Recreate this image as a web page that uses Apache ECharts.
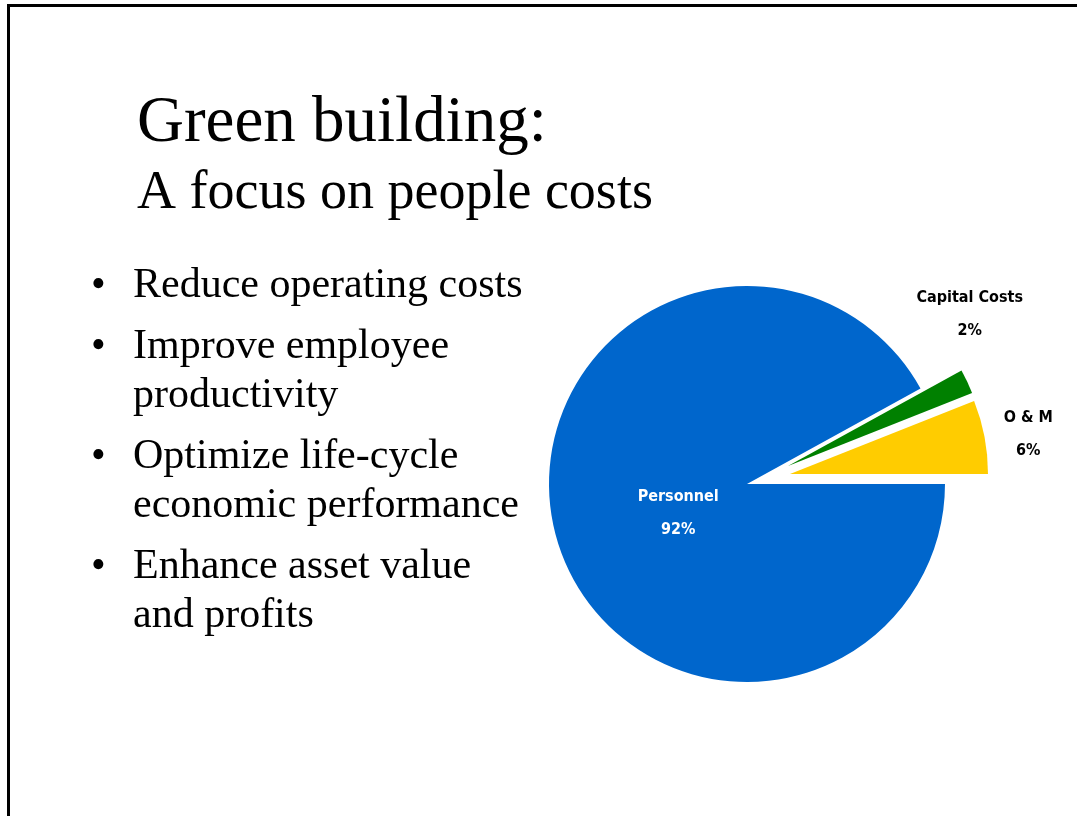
<!DOCTYPE html>
<html>
<head>
<meta charset="utf-8">
<title>Green building: A focus on people costs</title>
<script src="https://cdn.jsdelivr.net/npm/echarts@6/dist/echarts.min.js"></script>
<style>
  html, body { margin: 0; padding: 0; background: #ffffff; }
  #chart { width: 1077px; height: 816px; }
</style>
</head>
<body>
<div id="chart"></div>
<script>
// Cost breakdown over a building's life (percent of total)
const categories = ['O & M', 'Capital Costs', 'Personnel'];
const shares = [6, 2, 92];

// Slide heading and bullet points
const titleText = 'Green building:';
const subtitleText = 'A focus on people costs';
const bulletItems = [
  ['Reduce operating costs'],
  ['Improve employee', 'productivity'],
  ['Optimize life-cycle', 'economic performance'],
  ['Enhance asset value', 'and profits']
];

// Styling
const sliceColors = ['#FFCC00', '#008000', '#0066CC'];
// O & M and Capital Costs are pulled out of the pie, each by its own amount
const sliceCenters = [[790, 474], [788, 466], [747, 484]];
const labelShift = [[-6, 0], [-46, -61], [30, 4]];
const pieRadius = 198;
const serif = "'Liberation Serif', 'Times New Roman', serif";
const narrow = "'Liberation Sans Narrow', 'DejaVu Sans Condensed', sans-serif";

const chart = echarts.init(document.getElementById('chart'), null, { renderer: 'canvas' });

// Slide text as graphic elements
const graphics = [
  { type: 'rect', shape: { x: 7, y: 4, width: 1070, height: 3 }, style: { fill: '#000' }, silent: true },
  { type: 'rect', shape: { x: 7, y: 4, width: 3, height: 812 }, style: { fill: '#000' }, silent: true },
  { type: 'text', x: 137, y: 124, silent: true,
    style: { text: titleText, font: '65px ' + serif, fill: '#000', textAlign: 'left', textVerticalAlign: 'middle' } },
  { type: 'text', x: 137, y: 194, silent: true,
    style: { text: subtitleText, font: '54px ' + serif, fill: '#000', textAlign: 'left', textVerticalAlign: 'middle' } }
];

let lineY = 286;
bulletItems.forEach(lines => {
  graphics.push({ type: 'text', x: 91, y: lineY, silent: true,
    style: { text: '\u2022', font: '42px ' + serif, fill: '#000', textAlign: 'left', textVerticalAlign: 'middle' } });
  lines.forEach(line => {
    graphics.push({ type: 'text', x: 133, y: lineY, silent: true,
      style: { text: line, font: '42px ' + serif, fill: '#000', textAlign: 'left', textVerticalAlign: 'middle' } });
    lineY += 49;
  });
  lineY += 12;
});

// One pie per slice so each slice can sit at its own offset; the other slices stay invisible
const series = categories.map((name, k) => ({
  type: 'pie',
  name: name,
  center: sliceCenters[k],
  radius: pieRadius,
  startAngle: 0,
  clockwise: false,
  silent: true,
  animation: false,
  avoidLabelOverlap: false,
  label: {
    show: true,
    position: k === 2 ? 'inside' : 'outside',
    formatter: '{b}\n{d}%',
    fontFamily: narrow,
    fontWeight: 'bold',
    fontSize: 16,
    lineHeight: 33,
    color: k === 2 ? '#ffffff' : '#000000',
    align: 'center'
  },
  labelLine: { show: false },
  labelLayout: () => ({ dx: labelShift[k][0], dy: labelShift[k][1], align: 'center', verticalAlign: 'middle' }),
  data: categories.map((n, i) => ({
    name: n,
    value: shares[i],
    itemStyle: { color: i === k ? sliceColors[i] : 'rgba(0,0,0,0)' },
    label: { show: i === k }
  }))
}));

chart.setOption({
  backgroundColor: '#ffffff',
  animation: false,
  graphic: graphics,
  series: series
});
</script>
</body>
</html>
